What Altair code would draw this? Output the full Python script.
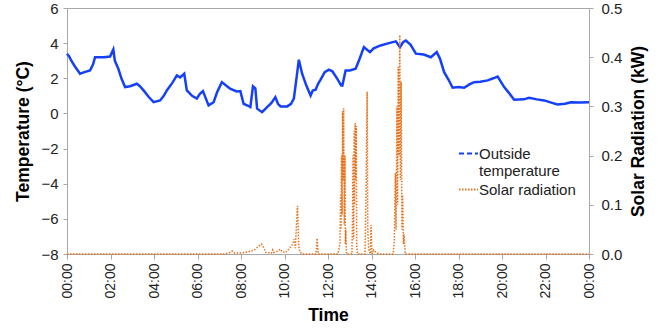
import altair as alt
import pandas as pd

# ---- data ----
temp_hours = [0.0, 0.1, 0.2, 0.35, 0.6, 0.8, 1.06, 1.2, 1.29, 1.5, 1.7, 1.98, 2.13, 2.2, 2.36, 2.5,
              2.67, 2.9, 3.21, 3.35, 3.52, 3.75, 3.98, 4.28, 4.45, 4.59, 4.85, 5.05, 5.2, 5.39, 5.51,
              5.75, 5.97, 6.1, 6.25, 6.4, 6.51, 6.74, 6.9, 7.12, 7.3, 7.5, 7.8, 7.97, 8.12, 8.3, 8.43,
              8.55, 8.66, 8.74, 8.97, 9.2, 9.4, 9.58, 9.7, 9.82, 10.12, 10.3, 10.43, 10.55, 10.66,
              10.81, 11.0, 11.2, 11.3, 11.43, 11.55, 11.66, 11.85, 12.04, 12.2, 12.43, 12.6, 12.66,
              12.81, 13.0, 13.27, 13.45, 13.65, 13.93, 14.1, 14.42, 14.8, 15.12, 15.31, 15.45, 15.58,
              15.8, 16.04, 16.4, 16.73, 17.0, 17.15, 17.34, 17.55, 17.73, 18.0, 18.26, 18.5, 18.72,
              19.0, 19.34, 19.6, 19.8, 20.1, 20.3, 20.56, 21.0, 21.25, 21.6, 21.94, 22.3, 22.55,
              22.9, 23.17, 23.6, 24.0]
temp_values = [3.40, 3.25, 3.0, 2.7, 2.26, 2.35, 2.45, 2.8, 3.2, 3.2, 3.2, 3.24, 3.64, 3.0, 2.54, 2.0,
               1.5, 1.55, 1.69, 1.55, 1.31, 0.95, 0.64, 0.74, 1.0, 1.31, 1.75, 2.16, 2.05, 2.26, 1.31,
               1.0, 0.84, 1.1, 1.27, 0.8, 0.46, 0.64, 1.2, 1.78, 1.6, 1.41, 1.25, 1.27, 0.55, 0.45, 0.36,
               1.54, 1.42, 0.27, 0.07, 0.36, 0.6, 0.93, 0.55, 0.4, 0.4, 0.55, 0.84, 2.0, 3.06,
               2.26, 1.6, 1.02, 1.3, 1.35, 1.7, 1.92, 2.35, 2.49, 2.4, 1.97, 1.6, 1.59,
               2.45, 2.45, 2.54, 3.1, 3.77, 3.49, 3.7, 3.87, 4.0, 4.1, 3.77, 4.05, 4.15,
               3.9, 3.40, 3.35, 3.2, 3.49, 3.11, 2.35, 1.9, 1.46, 1.5, 1.46, 1.65, 1.78,
               1.8, 1.88, 2.0, 2.1, 1.5, 1.2, 0.78, 0.8, 0.89, 0.8, 0.74, 0.6, 0.51,
               0.55, 0.64, 0.62, 0.64]

solar_hours = [0.0, 7.2, 7.5, 7.6, 7.7, 8.0, 8.3, 8.6, 8.85, 8.95, 9.05, 9.15, 9.4, 9.45, 9.5, 9.7,
               9.8, 9.9, 10.05, 10.2, 10.35, 10.45, 10.5, 10.55, 10.6, 10.65, 10.7, 10.8, 11.45, 11.5,
               11.55, 12.45, 12.55, 12.58, 12.6, 12.62, 12.65, 12.67, 12.7, 12.72, 12.75, 12.78, 12.8,
               12.82, 12.85, 13.1, 13.13, 13.15, 13.18, 13.2, 13.22, 13.25, 13.28, 13.3, 13.32, 13.35,
               13.7, 13.75, 13.78, 13.8, 13.83, 13.87, 13.95, 13.98, 14.02, 14.1, 14.2, 14.4, 15.0,
               15.05, 15.1, 15.13, 15.17, 15.2, 15.23, 15.26, 15.3, 15.33, 15.36, 15.4, 15.43, 15.47,
               15.5, 15.55, 24.0]
solar_values = [0.0, 0.0, 0.003, 0.006, 0.002, 0.002, 0.004, 0.008, 0.017, 0.02, 0.012, 0.003, 0.002,
                0.008, 0.003, 0.006, 0.01, 0.004, 0.003, 0.01, 0.018, 0.03, 0.012, 0.06, 0.098, 0.02,
                0.005, 0.0, 0.0, 0.032, 0.0, 0.0, 0.02, 0.12, 0.05, 0.2, 0.08, 0.29, 0.15, 0.296, 0.06,
                0.2, 0.02, 0.05, 0.0, 0.0, 0.08, 0.2, 0.03, 0.25, 0.1, 0.266, 0.15, 0.26, 0.02, 0.0,
                0.0, 0.12, 0.25, 0.33, 0.05, 0.01, 0.0, 0.059, 0.0, 0.008, 0.003, 0.0, 0.0,
                0.03, 0.165, 0.05, 0.3, 0.1, 0.38, 0.2, 0.445, 0.15, 0.35, 0.05, 0.12, 0.02,
                0.04, 0.0, 0.0]

series_names = ["Outside temperature", "Solar radiation"]
series_colors = ["#1440fa", "#e8711a"]
x_ticks = list(range(0, 25, 2))
temp_ticks = list(range(-8, 7, 2))
solar_ticks = [0.0, 0.1, 0.2, 0.3, 0.4, 0.5]

temp_df = pd.DataFrame({"hour": temp_hours, "value": temp_values})
solar_df = pd.DataFrame({"hour": solar_hours, "solar": solar_values})
legend_df = pd.DataFrame({"hour": [None, None], "value": [None, None], "series": series_names})

FONT = "Liberation Sans"
AXIS_GREY = "#a8a8a8"

x_enc = alt.X(
    "hour:Q",
    scale=alt.Scale(domain=[0, 24], nice=False, zero=False),
    axis=alt.Axis(
        values=x_ticks,
        labelExpr="(datum.value % 24 < 10 ? '0' : '') + (datum.value % 24) + ':00'",
        labelAngle=270,
        labelFontSize=14,
        labelPadding=4,
        tickSize=5,
        title="Time",
        titleFontSize=17.5,
        titleFontWeight="bold",
        titlePadding=8,
        grid=False,
    ),
)

y_temp = alt.Y(
    "value:Q",
    scale=alt.Scale(domain=[-8, 6], nice=False, zero=False),
    axis=alt.Axis(
        orient="left",
        values=temp_ticks,
        labelFontSize=15,
        labelPadding=5,
        tickSize=4,
        title="Temperature (°C)",
        titleFontSize=17.5,
        titleFontWeight="bold",
        titlePadding=8,
        grid=False,
    ),
)

y_solar = alt.Y(
    "solar:Q",
    scale=alt.Scale(domain=[0, 0.5], nice=False),
    axis=alt.Axis(
        orient="right",
        values=solar_ticks,
        format=".1f",
        labelFontSize=15,
        labelPadding=8,
        tickSize=4,
        title="Solar Radiation (kW)",
        titleFontSize=17.5,
        titleFontWeight="bold",
        titleAngle=270,
        titleBaseline="top",
        titlePadding=8,
        grid=False,
    ),
)

leg = alt.Legend(
    orient="none",
    legendX=391,
    legendY=135,
    title=None,
    symbolType="stroke",
    symbolSize=360,
    symbolStrokeWidth=2,
    labelFontSize=15,
    labelFont=FONT,
    labelColor="#222222",
    labelOffset=0,
    rowPadding=0,
    labelExpr="datum.label == 'Outside temperature' ? ['Outside', 'temperature'] : datum.label",
)

temp_layer = alt.Chart(temp_df).mark_line(color=series_colors[0], strokeWidth=2.5).encode(
    x=x_enc, y=y_temp
)

legend_layer = alt.Chart(legend_df).mark_line().encode(
    x=x_enc,
    y=y_temp,
    color=alt.Color("series:N", scale=alt.Scale(domain=series_names, range=series_colors), legend=leg),
    strokeDash=alt.StrokeDash(
        "series:N", scale=alt.Scale(domain=series_names, range=[[5, 3], [1.5, 1.5]]), legend=leg
    ),
)

solar_layer = alt.Chart(solar_df).mark_line(
    color=series_colors[1], strokeDash=[1.5, 1.5], strokeWidth=1.5
).encode(x=x_enc, y=y_solar)

chart = (
    alt.layer(alt.layer(temp_layer, legend_layer), solar_layer)
    .resolve_scale(y="independent")
    .properties(
        width=522,
        height=246,
        autosize=alt.AutoSizeParams(type="none"),
        padding={"left": 67, "top": 8, "right": 82, "bottom": 75},
        background="white",
    )
    .configure(font=FONT)
    .configure_view(stroke=AXIS_GREY, strokeWidth=1)
    .configure_axis(
        domainColor=AXIS_GREY,
        tickColor=AXIS_GREY,
        labelColor="#222222",
        titleColor="#000000",
        labelFont=FONT,
        titleFont=FONT,
    )
)

chart.save("out.html", embed_options={"renderer": "svg", "actions": False})
